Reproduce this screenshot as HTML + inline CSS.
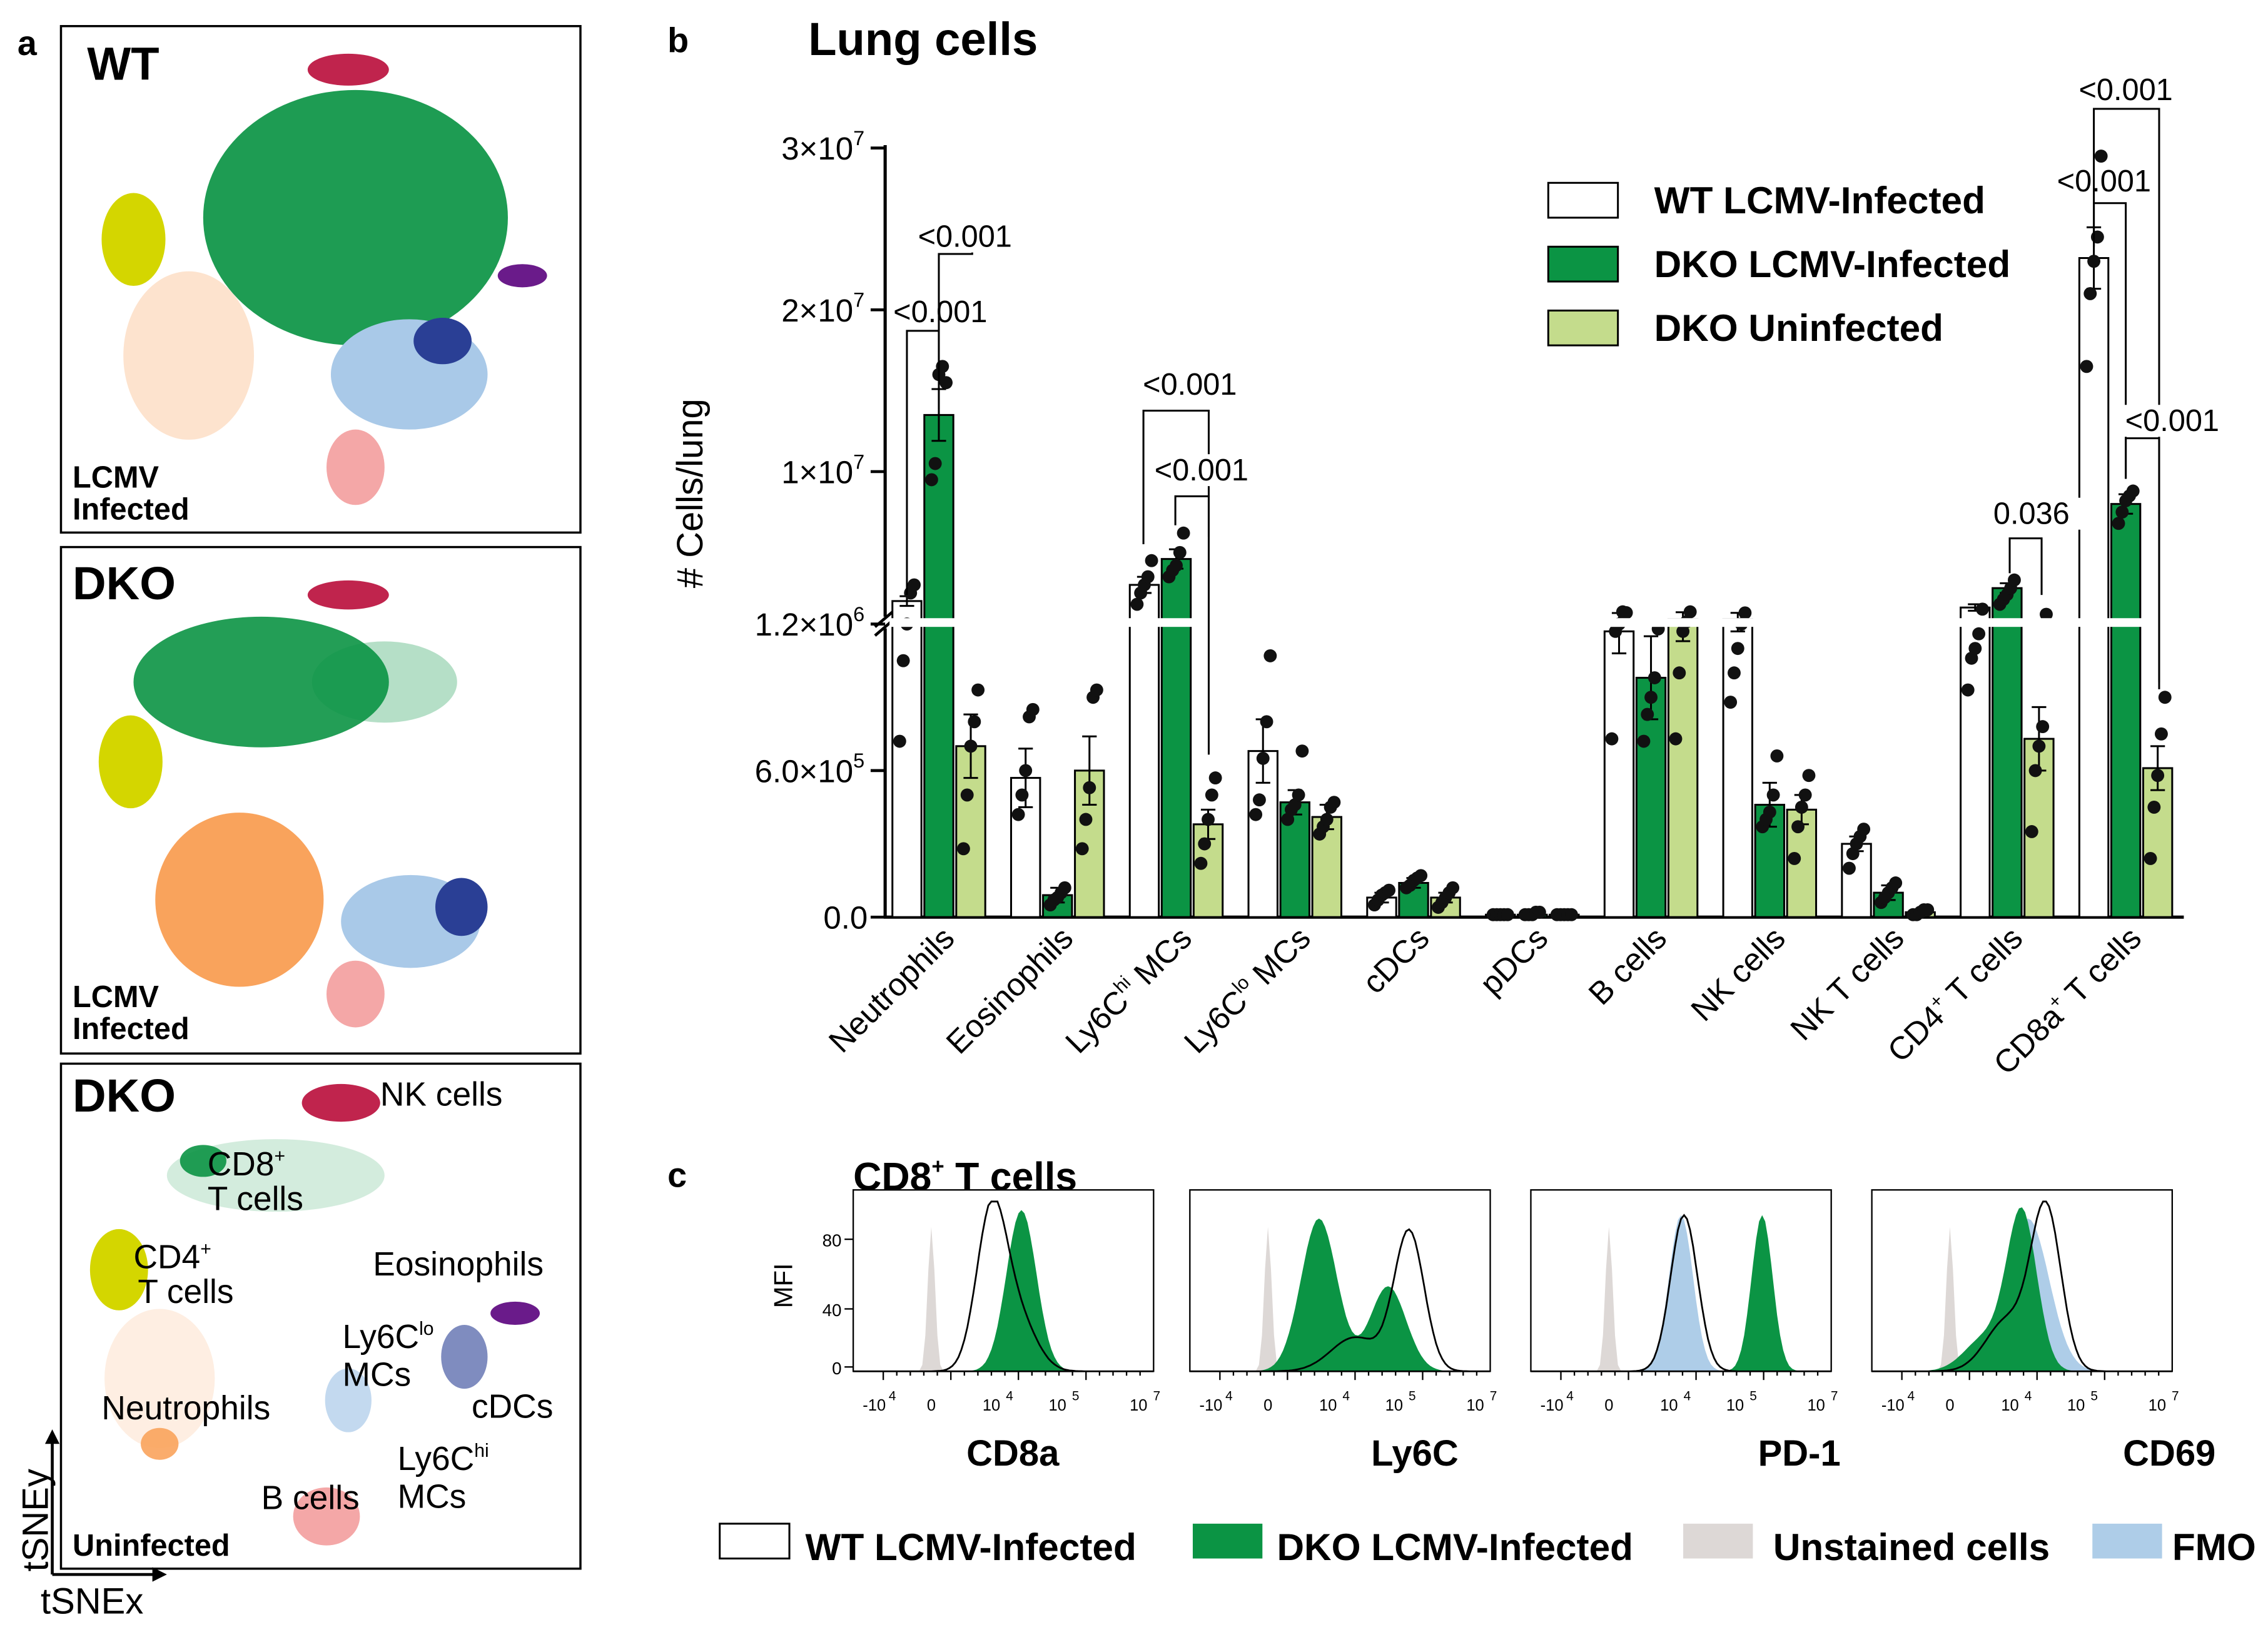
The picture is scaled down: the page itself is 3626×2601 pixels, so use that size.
<!DOCTYPE html>
<html><head><meta charset="utf-8"><style>
html,body{margin:0;padding:0;background:#fff}
svg{display:block;font-family:"Liberation Sans",Arial,sans-serif}
</style></head><body>
<svg id="fig" width="3626" height="2601" viewBox="0 0 1563 1121.2" xmlns="http://www.w3.org/2000/svg">
<g>
<text x="12" y="38" font-size="24" font-weight="bold">a</text>
<rect x="42" y="18" width="358" height="349" fill="none" stroke="#000" stroke-width="1.5"/>
<rect x="42" y="377" width="358" height="349" fill="none" stroke="#000" stroke-width="1.5"/>
<rect x="42" y="733" width="358" height="348" fill="none" stroke="#000" stroke-width="1.5"/>
<g id="tsne"></g>
<text x="60" y="55" font-size="32" font-weight="bold">WT</text>
<text x="50" y="336" font-size="21" font-weight="bold">LCMV</text>
<text x="50" y="358" font-size="21" font-weight="bold">Infected</text>
<text x="50" y="413" font-size="32" font-weight="bold">DKO</text>
<text x="50" y="694" font-size="21" font-weight="bold">LCMV</text>
<text x="50" y="716" font-size="21" font-weight="bold">Infected</text>
<text x="50" y="766" font-size="32" font-weight="bold">DKO</text>
<text x="50" y="1072" font-size="21" font-weight="bold">Uninfected</text>
<g font-size="23">
<text x="262" y="762">NK cells</text>
<text x="143" y="810">CD8<tspan font-size="13" dy="-9">+</tspan></text>
<text x="143" y="834">T cells</text>
<text x="92" y="874">CD4<tspan font-size="13" dy="-9">+</tspan></text>
<text x="95" y="898">T cells</text>
<text x="257" y="879">Eosinophils</text>
<text x="236" y="929">Ly6C<tspan font-size="13" dy="-9">lo</tspan></text>
<text x="236" y="955">MCs</text>
<text x="325" y="977">cDCs</text>
<text x="70" y="978">Neutrophils</text>
<text x="274" y="1013">Ly6C<tspan font-size="13" dy="-9">hi</tspan></text>
<text x="274" y="1039">MCs</text>
<text x="180" y="1040">B cells</text>
</g>
<line x1="36" y1="1085" x2="36" y2="990" stroke="#000" stroke-width="2"/>
<path d="M31,995 L36,985 L41,995Z" fill="#000"/>
<line x1="36" y1="1085" x2="110" y2="1085" stroke="#000" stroke-width="2"/>
<path d="M105,1080 L115,1085 L105,1090Z" fill="#000"/>
<text transform="translate(33,1083) rotate(-90)" font-size="25">tSNEy</text>
<text x="28" y="1112" font-size="25">tSNEx</text>
</g>
<g>
<text x="460" y="36" font-size="24" font-weight="bold">b</text>
<text x="557" y="38" font-size="32" font-weight="bold">Lung cells</text>
<text transform="translate(484,340) rotate(-90)" font-size="25" text-anchor="middle"># Cells/lung</text>
<g id="bars"></g>
</g>
<g>
<text x="460" y="818" font-size="24" font-weight="bold">c</text>
<text x="588" y="820" font-size="27" font-weight="bold">CD8<tspan font-size="15" dy="-11">+</tspan><tspan dy="11"> T cells</tspan></text>
<text transform="translate(546,886) rotate(-90)" font-size="18" text-anchor="middle">MFI</text>
<g id="hist"></g>
</g>
</svg>
<script>
const NS="http://www.w3.org/2000/svg";
function mk(p,t,a,txt){const e=document.createElementNS(NS,t);for(const k in a)e.setAttribute(k,a[k]);if(txt!==undefined)e.textContent=txt;p.appendChild(e);return e;}
const GREEN="#0b9444",LG="#c4dc8c";

const tsne=document.getElementById('tsne');
const blobs=[
 [245,150,105,88,GREEN,0.92],[92,165,22,32,"#d4d600",1],[130,245,45,58,"#f9a35c",0.3],[282,258,54,38,"#a9c9e8",1],[305,235,20,16,"#2a3f95",1],[245,322,20,26,"#f4a7a7",1],[240,48,28,11,"#c0244d",1],[360,190,17,8,"#6a1b8a",1],
 [180,470,88,45,GREEN,0.9],[265,470,50,28,GREEN,0.3],[90,525,22,32,"#d4d600",1],[165,620,58,60,"#f9a35c",1],[283,635,48,32,"#a9c9e8",1],[318,625,18,20,"#2a3f95",1],[245,685,20,23,"#f4a7a7",1],[240,410,28,10,"#c0244d",1],
 [190,810,75,25,GREEN,0.18],[140,800,16,11,GREEN,0.9],[82,875,20,28,"#d4d600",1],[110,950,38,48,"#f9a35c",0.18],[110,995,13,11,"#f9a35c",0.9],[235,760,27,13,"#c0244d",1],[355,905,17,8,"#6a1b8a",1],[320,935,16,22,"#2a3f95",0.6],[240,965,16,22,"#a9c9e8",0.7],[225,1045,23,20,"#f4a7a7",1]];
blobs.forEach((b,i)=>{const e=mk(tsne,'ellipse',{cx:b[0],cy:b[1],rx:b[2],ry:b[3],fill:b[4],opacity:b[5]});

});

const categories=["Neutrophils","Eosinophils","Ly6Chi MCs","Ly6Clo MCs","cDCs","pDCs","B cells","NK cells","NK T cells","CD4+ T cells","CD8a+ T cells"];
const wtInfected=[2.0,0.57,3.0,0.68,0.08,0.01,1.17,1.22,0.30,1.6,23.2];
const dkoInfected=[13.5,0.09,4.6,0.47,0.14,0.01,0.98,0.46,0.10,2.8,8.0];
const dkoUninfected=[0.70,0.60,0.38,0.41,0.08,0.01,1.22,0.44,0.02,0.73,0.61];
const wtSem=[0.3,0.12,0.5,0.13,0.02,0.005,0.09,0.05,0.03,0.2,1.9];
const dkoSem=[1.6,0.03,0.6,0.05,0.02,0.005,0.17,0.09,0.03,0.3,0.6];
const unSem=[0.13,0.14,0.06,0.05,0.02,0.005,0.09,0.06,0.01,0.13,0.09];
const wtDots=[[0.72,1.05,1.2,2.5,3.0],[0.42,0.5,0.6,0.82,0.85],[1.8,2.5,3.0,3.5,4.5],[0.42,0.48,0.65,0.8,1.07],[0.05,0.07,0.09,0.1,0.11],[0.01,0.01,0.01,0.01,0.01],[0.73,1.17,1.2,1.25,1.28],[0.88,1.0,1.1,1.2,1.27],[0.2,0.26,0.3,0.33,0.36],[0.93,1.06,1.1,1.16,1.5],[16.5,21,23,24.5,29.5]];
const dkoDots=[[9.5,10.5,16,16.5,15.5],[0.05,0.07,0.08,0.1,0.12],[3.5,3.9,4.2,5.0,6.2],[0.4,0.44,0.46,0.5,0.68],[0.12,0.13,0.15,0.16,0.17],[0.01,0.01,0.01,0.02,0.02],[0.72,0.83,0.9,0.98,1.18],[0.37,0.4,0.43,0.5,0.66],[0.06,0.08,0.1,0.12,0.14],[1.8,2.1,2.4,2.8,3.3],[6.8,7.5,8.2,8.5,8.8]];
const unDots=[[0.28,0.5,0.7,0.8,0.93],[0.28,0.4,0.53,0.9,0.93],[0.22,0.3,0.4,0.5,0.57],[0.34,0.37,0.4,0.45,0.47],[0.04,0.06,0.08,0.1,0.12],[0.01,0.01,0.01,0.01,0.01],[0.73,1.0,1.17,1.21,1.25],[0.24,0.37,0.45,0.5,0.58],[0.01,0.01,0.02,0.03,0.03],[0.35,0.6,0.7,0.78,1.24],[0.24,0.45,0.58,0.75,0.9]];
const lowTicks=[0,0.6,1.2];const lowTickLabels=["0.0","6.0×10","1.2×10"];const lowExp=["","5","6"];
const highTicks=[10,20,30];const highTickLabels=["1×10","2×10","3×10"];

const X0=647,STEP=81.8,Y0=632,BREAK=428;
function y(v){ if(v<=1.25) return Y0-v*168.3; return Math.min(436.5-11.15*v,BREAK-1); }
function xc(i){return X0+i*STEP;}
const bars=document.getElementById('bars');
let ax=mk(bars,'line',{x1:610,y1:100,x2:610,y2:425,stroke:'#000','stroke-width':2.2});

ax=mk(bars,'line',{x1:610,y1:433,x2:610,y2:Y0,stroke:'#000','stroke-width':2.2});

mk(bars,'line',{x1:603,y1:432,x2:617,y2:420,stroke:'#000','stroke-width':2});
mk(bars,'line',{x1:603,y1:438,x2:617,y2:426,stroke:'#000','stroke-width':2});
ax=mk(bars,'line',{x1:609,y1:Y0,x2:1505,y2:Y0,stroke:'#000','stroke-width':2.2});

function tick(yy,lab,ex,nm){mk(bars,'line',{x1:600,y1:yy,x2:610,y2:yy,stroke:'#000','stroke-width':2});
 const t=mk(bars,'text',{x:ex?588:598,y:yy+8,'font-size':22,'text-anchor':'end'},lab);
 
 if(ex){mk(bars,'text',{x:588,y:yy-2,'font-size':14},ex);}}
lowTicks.forEach((v,i)=>tick(y(v),lowTickLabels[i],lowExp[i],'y-tick-low'));
highTicks.forEach((v,i)=>tick(436.5-11.15*v,highTickLabels[i],"7",'y-tick-high'));
const series=[[wtInfected,wtSem,wtDots,'#fff',-22,'wt'],[dkoInfected,dkoSem,dkoDots,GREEN,0,'dko'],[dkoUninfected,unSem,unDots,LG,22,'uninf']];
categories.forEach((c,i)=>{
 series.forEach(s=>{const v=s[0][i],cx=xc(i)+s[4],top=y(v);
  const r=mk(bars,'rect',{x:cx-10,y:top,width:20,height:Y0-top,fill:s[3],stroke:'#000','stroke-width':1.3});
  
  const e1=y(v+s[1][i]),e2=y(Math.max(0,v-s[1][i]));
  mk(bars,'line',{x1:cx,y1:e1,x2:cx,y2:e2,stroke:'#000','stroke-width':1.3});
  mk(bars,'line',{x1:cx-5,y1:e1,x2:cx+5,y2:e1,stroke:'#000','stroke-width':1.3});
  mk(bars,'line',{x1:cx-5,y1:e2,x2:cx+5,y2:e2,stroke:'#000','stroke-width':1.3});
  s[2][i].forEach((d,j)=>{const p=mk(bars,'circle',{cx:cx+(j-2)*2.5,cy:y(d),r:4.5,fill:'#111'});
   });
 });
 mk(bars,'rect',{x:xc(i)-34,y:426,width:68,height:6,fill:'#fff'});
 const t=mk(bars,'text',{transform:`translate(${xc(i)+12},${648}) rotate(-45)`,'font-size':22,'text-anchor':'end'});
 
 if(c.includes('Ly6C')){t.innerHTML='Ly6C<tspan font-size="13" dy="-9">'+(c.includes('hi')?'hi':'lo')+'</tspan><tspan dy="9"> MCs</tspan>';}
 else if(c.includes('+')){const [a,b]=c.split('+');t.innerHTML=a+'<tspan font-size="13" dy="-9">+</tspan><tspan dy="9">'+b+'</tspan>';}
 else t.textContent=c;
});
const br=[[625,647,228,'<0.001',648,222],[647,670,175,'<0.001',665,170],[788,833,283,'<0.001',820,272],[810,833,342,'<0.001',828,331],[1385,1407,371,'0.036',1400,361],[1443,1465,140,'<0.001',1450,132],[1443,1488,75,'<0.001',1465,69],[1465,1488,302,'<0.001',1497,297]];
const bottoms=[[410,260],[282,160],[375,370],[362,520],[395,410],[170,330],[170,470],[330,475]];
br.forEach((b,i)=>{const g=mk(bars,'path',{d:`M${b[0]},${bottoms[i][0]} V${b[2]} H${b[1]} V${bottoms[i][1]}`,fill:'none',stroke:'#000','stroke-width':1.3});
 
 const bg=mk(bars,'rect',{x:b[4]-34,y:b[5]-18,width:68,height:22,fill:'#fff'});
 const t=mk(bars,'text',{x:b[4],y:b[5],'font-size':21,'text-anchor':'middle'},b[3]);
 });
[['WT LCMV-Infected','#fff',126],['DKO LCMV-Infected',GREEN,170],['DKO Uninfected',LG,214]].forEach(l=>{
 const r=mk(bars,'rect',{x:1067,y:l[2],width:48,height:24,fill:l[1],stroke:'#000','stroke-width':1.3});
 
 const t=mk(bars,'text',{x:1140,y:l[2]+21,'font-size':26,'font-weight':'bold'},l[0]);
 });

const markers=["CD8a","Ly6C","PD-1","CD69"];
const panelX=[588,820,1055,1290];
const unstained=[[0.26,0.85,0.012],[0.26,0.85,0.012],[0.26,0.85,0.012],[0.26,0.85,0.012]];
const wtCurve=[[[0.46,0.92,0.05],[0.55,0.3,0.06]],[[0.73,0.82,0.05],[0.55,0.2,0.08]],[[0.51,0.92,0.045]],[[0.58,0.95,0.05],[0.45,0.3,0.07]]];
const dkoCurve=[[[0.56,0.95,0.05]],[[0.43,0.9,0.06],[0.66,0.5,0.06]],[[0.77,0.92,0.035]],[[0.5,0.92,0.05],[0.38,0.2,0.07]]];
const fmoCurve=[null,null,[[0.5,0.92,0.04]],[[0.52,0.9,0.07]]];
const hist=document.getElementById('hist');
const PW=207,PT=820,PB=945;
function curve(comps,x0){let d=`M${x0},${PB}`;for(let k=0;k<=100;k++){const u=k/100;let h=0;comps.forEach(c=>h+=c[1]*Math.exp(-((u-c[0])**2)/(2*c[2]*c[2])));h=Math.min(h,1);d+=` L${(x0+u*PW).toFixed(1)},${(PB-h*(PB-PT-8)).toFixed(1)}`;}return d+` L${x0+PW},${PB}Z`;}
markers.forEach((m,i)=>{const x0=panelX[i];
 const g=mk(hist,'g',{});
 mk(g,'rect',{x:x0,y:PT,width:PW,height:PB-PT,fill:'none',stroke:'#000','stroke-width':1});
 mk(g,'path',{d:curve([unstained[i]],x0),fill:'#ddd8d6'});
 if(fmoCurve[i])mk(g,'path',{d:curve(fmoCurve[i],x0),fill:'#aecde8'});
 mk(g,'path',{d:curve(dkoCurve[i],x0),fill:GREEN});
 mk(g,'path',{d:curve(wtCurve[i],x0),fill:'none',stroke:'#000','stroke-width':1.2});
 [['-10',0.07],['0',0.26],['10',0.46],['10',0.68],['10',0.95]].forEach((t,j)=>{mk(g,'text',{x:x0+t[1]*PW,y:PB+27,'font-size':11,'text-anchor':'middle'},t[0]);if(j!=1)mk(g,'text',{x:x0+t[1]*PW+10,y:PB+20,'font-size':9},j==3?'5':j==4?'7':'4');});
 for(let k=0;k<20;k++)mk(g,'line',{x1:x0+PW*(0.1+k*0.045),y1:PB,x2:x0+PW*(0.1+k*0.045),y2:PB+(k%5==0?6:3),stroke:'#000','stroke-width':1});
 const t=mk(hist,'text',{x:x0+(i==0?110:i==1?155:i==2?185:205),y:1010,'font-size':25,'font-weight':'bold','text-anchor':'middle'},m);
 
});
[['0',942],['40',902],['80',854]].forEach(t=>{mk(hist,'text',{x:580,y:t[1]+5,'font-size':12,'text-anchor':'end'},t[0]);mk(hist,'line',{x1:582,y1:t[1],x2:588,y2:t[1],stroke:'#000'});});
[['WT LCMV-Infected','#fff',496,555],['DKO LCMV-Infected',GREEN,822,880],['Unstained cells','#ddd8d6',1160,1222],['FMO','#aecde8',1442,1497]].forEach(l=>{
 const r=mk(hist,'rect',{x:l[2],y:1050,width:48,height:24,fill:l[1],stroke:l[1]=='#fff'?'#000':'none','stroke-width':1.3});
 
 const t=mk(hist,'text',{x:l[3],y:1075,'font-size':26,'font-weight':'bold'},l[0]);
 });
</script>
</body></html>
